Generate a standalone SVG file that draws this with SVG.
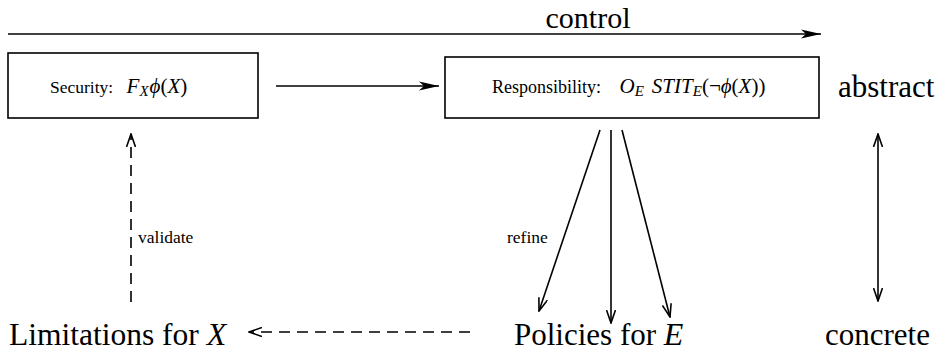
<svg xmlns="http://www.w3.org/2000/svg" width="938" height="354" viewBox="0 0 938 354">
<defs>
<style>
.box{fill:#fff;stroke:#000;stroke-width:1.6}
.ln{fill:none;stroke:#000;stroke-width:1.6}
.dash{fill:none;stroke:#000;stroke-width:1.6;stroke-dasharray:11,7}
</style>
<marker id="st" viewBox="0 0 20 10" refX="20" refY="5" markerWidth="20" markerHeight="10" markerUnits="userSpaceOnUse" orient="auto">
<path d="M0,0.5 L20,5 L0,9.5 L5,5 Z" fill="#000"/>
</marker>
<marker id="v" viewBox="0 0 14 10" refX="13" refY="5" markerWidth="14" markerHeight="10" markerUnits="userSpaceOnUse" orient="auto-start-reverse">
<path d="M0,0.5 L13,5 L0,9.5" fill="none" stroke="#000" stroke-width="1.6"/>
</marker>
</defs>
<g font-family="Liberation Serif, Times New Roman, serif" fill="#000">
<g id="connectors">
<line class="ln" x1="8" y1="34" x2="821" y2="34" marker-end="url(#st)"/>
<line class="ln" x1="276" y1="86" x2="439" y2="86" marker-end="url(#st)"/>
<line class="dash" x1="131" y1="302" x2="131" y2="134" marker-end="url(#v)"/>
<line class="dash" x1="470" y1="332" x2="249" y2="332" marker-end="url(#v)"/>
<line class="ln" x1="600" y1="130" x2="539" y2="311" marker-end="url(#v)"/>
<line class="ln" x1="611" y1="130" x2="611" y2="323" marker-end="url(#v)"/>
<line class="ln" x1="622" y1="130" x2="670" y2="317" marker-end="url(#v)"/>
<line class="ln" x1="878" y1="134" x2="878" y2="301" marker-start="url(#v)" marker-end="url(#v)"/>
<text font-size="17.5" x="138" y="243">validate</text>
<text font-size="17.5" x="507" y="243">refine</text>
<text font-size="30" x="588" y="28" text-anchor="middle">control</text>
</g>
<g id="security">
<rect class="box" x="8" y="53" width="250" height="65"/>
<text x="50" y="93" font-size="17.5">Security: <tspan font-style="italic" font-size="21" dx="9">F</tspan><tspan font-style="italic" font-size="15" dy="3">X</tspan><tspan font-style="italic" font-size="21" dy="-3" dx="1">ϕ</tspan><tspan font-size="21">(</tspan><tspan font-style="italic" font-size="21">X</tspan><tspan font-size="21">)</tspan></text>
</g>
<g id="responsibility">
<rect class="box" x="445" y="57" width="374" height="61"/>
<text x="492" y="93" font-size="18">Responsibility: <tspan font-style="italic" font-size="21" dx="14">O</tspan><tspan font-style="italic" font-size="15" dy="3">E</tspan><tspan font-style="italic" font-size="21" dy="-3" dx="8">STIT</tspan><tspan font-style="italic" font-size="15" dy="3">E</tspan><tspan font-size="21" dy="-3">(¬</tspan><tspan font-style="italic" font-size="21">ϕ</tspan><tspan font-size="21">(</tspan><tspan font-style="italic" font-size="21">X</tspan><tspan font-size="21">))</tspan></text>
</g>
<g id="abstract">
<text font-size="31" x="838" y="97">abstract</text>
</g>
<g id="concrete">
<text font-size="31" x="825" y="345">concrete</text>
</g>
<g id="limitations">
<text font-size="31.5" x="9" y="345">Limitations for <tspan font-style="italic" font-size="32">X</tspan></text>
</g>
<g id="policies">
<text font-size="31" x="514" y="345">Policies for <tspan font-style="italic" font-size="32">E</tspan></text>
</g>
</g>
</svg>
